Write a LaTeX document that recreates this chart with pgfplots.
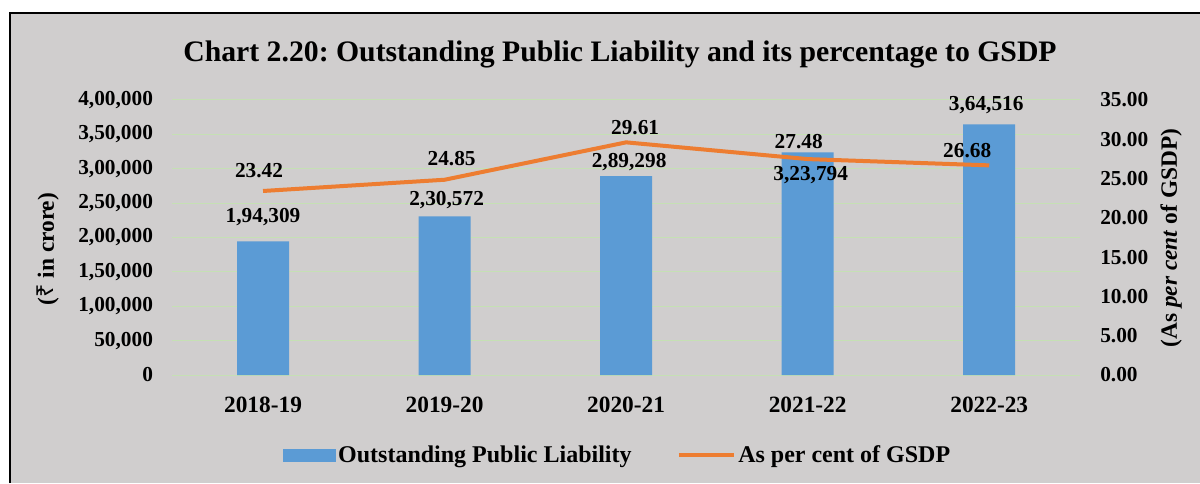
\documentclass[border=0pt]{standalone}
\usepackage{fontspec}
\setmainfont{Liberation Serif}
\newfontfamily\rupeefont{Noto Sans}
\usepackage{pgfplots}
\pgfplotsset{compat=1.18}
\usepackage{pgfplotstable}

\definecolor{bgc}{HTML}{D0CECE}
\definecolor{barc}{HTML}{5B9BD5}
\definecolor{linec}{HTML}{ED7D31}
\definecolor{gridc}{HTML}{C5E0B4}

\newcommand{\fs}[1]{\fontsize{#1}{#1}\selectfont\bfseries}

% bar values; dx/dy = label offsets (pt)
\pgfplotstableread{
x y lab dx dy
0 194309 1,94,309 0 18
1 230572 2,30,572 1.5 12
2 289298 2,89,298 2.25 10.5
3 323794 3,23,794 2.25 -17.25
4 364516 3,64,516 -2.25 14.25
}\liab

\pgfplotstableread{
x y lab dx dy
0 23.42 23.42 -3 15
1 24.85 24.85 5.25 15.75
2 29.61 29.61 6.75 11.25
3 27.48 27.48 -6.75 13.5
4 26.68 26.68 -16.5 11.25
}\pct

\pgfplotsset{
  base/.style={scale only axis, width=680.8pt, height=206.25pt,
    at={(129.2pt,81pt)}, anchor=south west,
    xmin=-0.5, xmax=4.5, axis line style={draw=none},
    major tick length=0pt, clip=false, scaled y ticks=false,
    point meta=explicit symbolic},
  lbl/.style={nodes near coords,
    visualization depends on={\thisrow{dx}\as\ldx},
    visualization depends on={\thisrow{dy}\as\ldy},
    nodes near coords style={font=\fs{16}, text=black, anchor=center,
      inner sep=0pt, xshift=\ldx pt, yshift=\ldy pt}},
}

\begin{document}
\frenchspacing
\begin{tikzpicture}
\path[use as bounding box] (0,0) rectangle (900pt,362.25pt);
\fill[white] (0,0) rectangle (900pt,362.25pt);
\fill[bgc] (7.5pt,0) rectangle (900pt,352.5pt);
\draw[black, line width=1.9pt] (7.5pt,0) -- (7.5pt,352.5pt) -- (900pt,352.5pt);

\node[font=\fs{22.3}, anchor=base] at (465pt,315.75pt)
  {Chart 2.20: Outstanding Public Liability and its percentage to GSDP};

\begin{axis}[base,
  ymin=0, ymax=400000, ytick={0,50000,...,400000},
  yticklabels={0,{50,000},{1,00,000},{1,50,000},{2,00,000},{2,50,000},{3,00,000},{3,50,000},{4,00,000}},
  ymajorgrids, grid style={gridc, line width=0.75pt},
  xtick={0,...,4}, xticklabels={2018-19,2019-20,2020-21,2021-22,2022-23},
  yticklabel style={font=\fs{16}, anchor=east, inner sep=0pt, xshift=-14.25pt},
  xticklabel style={font=\fs{17.5}, anchor=base, inner sep=0pt, yshift=-28pt},
  every axis y label/.style={at={(axis description cs:-0.1369,0.458)}, anchor=center, rotate=90, font=\fs{17.5}},
  ylabel={({\rupeefont ₹} in crore)}]
\addplot[ybar, bar width=39pt, fill=barc, draw=none, lbl]
  table[x=x, y=y, meta=lab] {\liab};
\end{axis}

\begin{axis}[base, hide x axis,
  ymin=0, ymax=35, ytick={0,5,...,35},
  yticklabels={0.00,5.00,10.00,15.00,20.00,25.00,30.00,35.00},
  yticklabel pos=right,
  yticklabel style={font=\fs{16}, anchor=west, inner sep=0pt, xshift=15pt},
  every axis y label/.style={at={(axis description cs:1.1004,0.498)}, anchor=center, rotate=90, font=\fs{17.5}},
  ylabel={(As \textit{per cent} of GSDP)},
  legend style={at={(axis description cs:0.491,-0.291)}, anchor=center,
    draw=none, fill=none, legend columns=2, font=\fs{18},
    /tikz/every even column/.append style={column sep=32pt}},
  legend cell align=left]
\addlegendimage{legend image code/.code={\fill[barc] (0pt,-4.5pt) rectangle (39pt,4.5pt);}}
\addlegendentry{Outstanding Public Liability}
\addplot[linec, line width=3pt, line join=round, lbl,
  legend image code/.code={\draw[linec, line width=3pt] (0pt,0pt) -- (41pt,0pt);}]
  table[x=x, y=y, meta=lab] {\pct};
\addlegendentry{As per cent of GSDP}
\end{axis}
\end{tikzpicture}
\end{document}
